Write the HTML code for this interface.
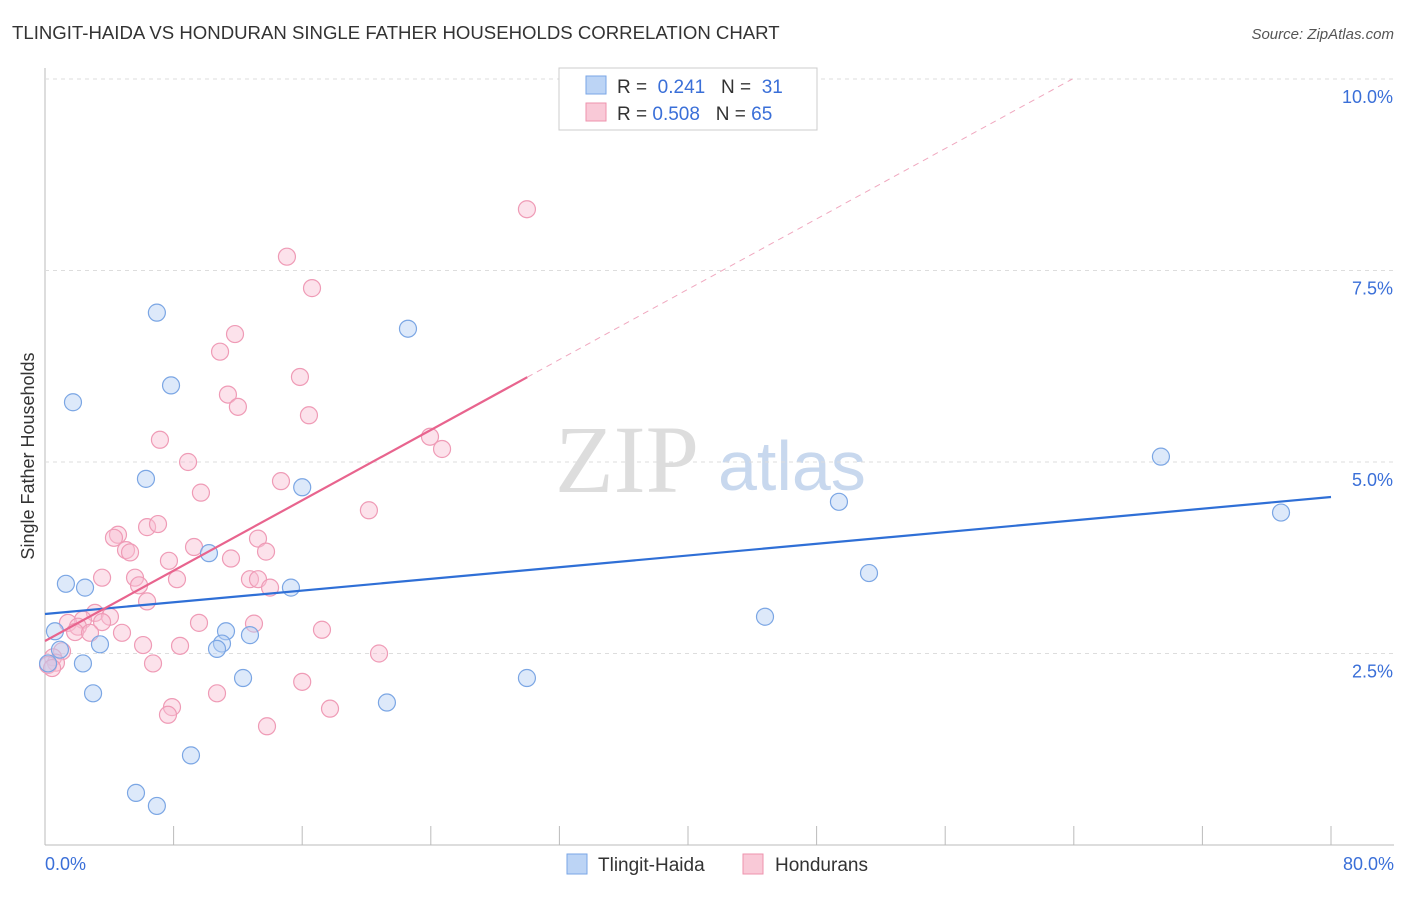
<!DOCTYPE html>
<html><head><meta charset="utf-8"><style>
body{margin:0;background:#fff;font-family:"Liberation Sans",sans-serif;}
</style></head><body>
<svg id="c" width="1406" height="892" xmlns="http://www.w3.org/2000/svg">
<text x="12" y="39" font-size="18.6" fill="#333">TLINGIT-HAIDA VS HONDURAN SINGLE FATHER HOUSEHOLDS CORRELATION CHART</text>
<text x="1394" y="39" font-size="15" fill="#555" font-style="italic" text-anchor="end">Source: ZipAtlas.com</text>
<text x="34" y="456" font-size="18" fill="#333" text-anchor="middle" transform="rotate(-90 34 456)">Single Father Households</text>
<text x="555" y="492" font-size="96" fill="#ddd" font-family="Liberation Serif,serif">ZIP</text>
<text x="718" y="490" font-size="70" fill="#c8d8ee">atlas</text>
<g id="grid"></g><g id="pts"></g><g id="lines"></g>
<g>
<rect x="559" y="68" width="258" height="62" fill="#fff" stroke="#ccc"/>
<rect x="586" y="76" width="20" height="18" fill="#bcd4f5" stroke="#7aa6e6"/>
<text x="617" y="93" font-size="19" fill="#333">R = <tspan fill="#3a6fd8">&#160;0.241</tspan>&#160;&#160;&#160;N = <tspan fill="#3a6fd8">&#160;31</tspan></text>
<rect x="586" y="103" width="20" height="18" fill="#f9c9d7" stroke="#ee93ae"/>
<text x="617" y="120" font-size="19" fill="#333">R = <tspan fill="#3a6fd8">0.508</tspan>&#160;&#160;&#160;N = <tspan fill="#3a6fd8">65</tspan></text>
</g>
<g>
<rect x="567" y="854" width="20" height="20" fill="#bcd4f5" stroke="#7aa6e6"/>
<text x="598" y="871" font-size="19" fill="#333">Tlingit-Haida</text>
<rect x="743" y="854" width="20" height="20" fill="#f9c9d7" stroke="#ee93ae"/>
<text x="775" y="871" font-size="19" fill="#333">Hondurans</text>
</g>
</svg>
<script>
const xTicks=[0,8,16,24,32,40,48,56,64,72,80];
const yTicks=[2.5,5,7.5,10];
const yTickLabels=["2.5%","5.0%","7.5%","10.0%"];
const xEndLabels=["0.0%","80.0%"];
const blueX=[6.96,1.74,7.84,22.58,6.28,16.0,10.2,1.3,2.49,15.3,0.62,3.42,11.26,12.75,11.01,10.7,0.93,2.36,0.19,12.32,2.99,21.27,9.08,5.66,6.96,29.98,49.39,51.26,44.79,69.42,76.89];
const blueY=[6.95,5.78,6.0,6.74,4.78,4.67,3.81,3.41,3.36,3.36,2.79,2.62,2.79,2.74,2.63,2.56,2.55,2.37,2.37,2.18,1.98,1.86,1.17,0.68,0.51,2.18,4.48,3.55,2.98,5.07,4.34];
const pinkX=[29.98,15.05,16.61,11.82,10.89,15.86,11.38,12.0,16.42,7.15,23.95,24.7,8.9,9.7,14.68,20.15,6.35,7.03,4.54,4.29,5.04,5.29,9.27,7.71,13.25,13.75,11.57,3.55,5.6,5.85,8.21,12.75,13.25,14.0,6.35,3.11,4.04,2.36,1.43,2.05,1.87,3.55,2.8,4.79,9.58,13.0,17.23,6.1,8.4,1.06,0.5,0.68,0.19,0.44,6.72,20.78,16.0,10.7,7.9,7.65,17.73,13.81];
const pinkY=[8.30,7.68,7.27,6.67,6.44,6.11,5.88,5.72,5.61,5.29,5.33,5.17,5.0,4.6,4.75,4.37,4.15,4.19,4.05,4.01,3.85,3.82,3.89,3.71,4.0,3.83,3.74,3.49,3.49,3.39,3.47,3.47,3.47,3.36,3.18,3.03,2.98,2.94,2.90,2.85,2.78,2.91,2.77,2.77,2.90,2.89,2.81,2.61,2.6,2.53,2.45,2.38,2.35,2.31,2.37,2.5,2.13,1.98,1.8,1.7,1.78,1.55];
const blueTrend=[3.016,4.543];
const pinkTrend=[2.663,0.1148];
const sx=v=>45+v*16.075, sy=v=>845-v*76.6;
const NS="http://www.w3.org/2000/svg";
function mk(p,t,a){const e=document.createElementNS(NS,t);for(const k in a)e.setAttribute(k,a[k]);document.getElementById(p).appendChild(e);return e;}
let ax=mk('grid','line',{x1:45,y1:68,x2:45,y2:845,stroke:'#bbb'});


let bx=mk('grid','line',{x1:45,y1:845,x2:1394,y2:845,stroke:'#bbb'});


yTicks.forEach((v,i)=>{
 let g=mk('grid','line',{x1:45,y1:sy(v),x2:1394,y2:sy(v),stroke:'#ddd','stroke-dasharray':'4,4'});
 
 
 let t=mk('grid','text',{x:1393,y:sy(v)+24,'font-size':18,fill:'#3a6fd8','text-anchor':'end'});t.textContent=yTickLabels[i];
 
 
});
xTicks.forEach(v=>{let t=mk('grid','line',{x1:sx(v),y1:826,x2:sx(v),y2:845,stroke:'#bbb'});
 
 });
[[0,xEndLabels[0],'start',45],[80,xEndLabels[1],'end',1394]].forEach(a=>{let t=mk('grid','text',{x:a[3],y:870,'font-size':18,fill:'#3a6fd8','text-anchor':a[2]});t.textContent=a[1];
 
 });
pinkX.forEach((x,i)=>{let c=mk('pts','circle',{cx:sx(x),cy:sy(pinkY[i]),r:8.5,fill:'rgba(249,190,210,0.45)',stroke:'#ef9bb6','stroke-width':1.2});
 
 });
blueX.forEach((x,i)=>{let c=mk('pts','circle',{cx:sx(x),cy:sy(blueY[i]),r:8.5,fill:'rgba(180,206,245,0.45)',stroke:'#7ba6e4','stroke-width':1.2});
 
 });
let l1=mk('lines','line',{x1:sx(0),y1:sy(blueTrend[0]),x2:sx(80),y2:sy(blueTrend[1]),stroke:'#2f6fd6','stroke-width':2.2});


const pf=x=>pinkTrend[0]+pinkTrend[1]*x;
let l2=mk('lines','line',{x1:sx(0),y1:sy(pf(0)),x2:sx(30),y2:sy(pf(30)),stroke:'#e8648e','stroke-width':2.2});


const xe=(10-pinkTrend[0])/pinkTrend[1];
let l3=mk('lines','line',{x1:sx(30),y1:sy(pf(30)),x2:sx(xe),y2:sy(pf(xe)),stroke:'#f0a8bf','stroke-width':1,'stroke-dasharray':'6,5'});


</script>
</body></html>
